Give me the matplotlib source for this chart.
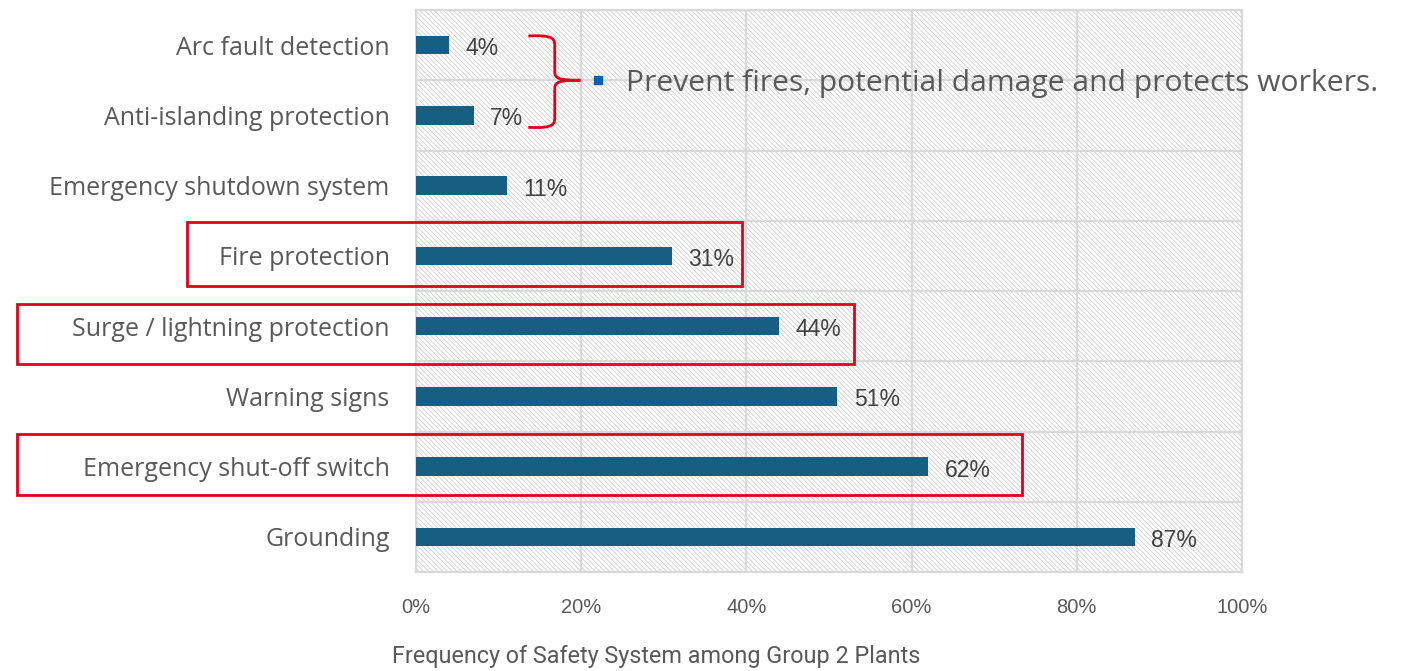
import matplotlib
matplotlib.use("Agg")
import matplotlib.pyplot as plt
import numpy as np
from matplotlib.patches import Rectangle, PathPatch
from matplotlib.path import Path

# Safety systems (listed top to bottom) and share of plants that have them (%)
categories = [
    "Arc fault detection",
    "Anti-islanding protection",
    "Emergency shutdown system",
    "Fire protection",
    "Surge / lightning protection",
    "Warning signs",
    "Emergency shut-off switch",
    "Grounding",
]
values = [4, 7, 11, 31, 44, 51, 62, 87]
xticks = [0, 20, 40, 60, 80, 100]
xtick_labels = ["0%", "20%", "40%", "60%", "80%", "100%"]
xlabel = "Frequency of Safety System among Group 2 Plants"
note = "Prevent fires, potential damage and protects workers."

# Highlighted rows: (category, x-left, x-right, y-offset top, y-offset bottom)
highlights = [
    ("Fire protection", -27.7, 39.5, -0.48, 0.43),
    ("Surge / lightning protection", -48.3, 53.0, -0.31, 0.54),
    ("Emergency shut-off switch", -48.3, 73.4, -0.46, 0.40),
]

BAR = "#175f82"
GRID = "#d9d9d9"
TXT = "#595959"
RED = "#e0001b"

plt.rcParams["hatch.linewidth"] = 0.5
plt.rcParams["hatch.color"] = "#c4c4c4"

fig = plt.figure(figsize=(14.03, 6.71), dpi=100)
ax = fig.add_axes([416 / 1403, 1 - 572 / 671, 826 / 1403, 562 / 671])

y = np.arange(len(categories))
ax.set_xlim(0, 100)
ax.set_ylim(len(categories) - 0.5, -0.5)

# hatched plot background
ax.add_patch(Rectangle((0, 0), 1, 1, transform=ax.transAxes, facecolor="white",
                       edgecolor="#c4c4c4", hatch="\\" * 7, linewidth=0, zorder=0))

ax.barh(y, values, height=0.26, color=BAR, zorder=3)
for yi, v in zip(y, values):
    ax.text(v + 2.0, yi + 0.05, f"{v}%", va="center", ha="left", fontsize=16.5,
            family="Liberation Sans", color="#404040", zorder=4)

ax.set_xticks(xticks)
ax.set_xticklabels(xtick_labels, family="Liberation Sans", fontsize=14.5, color=TXT)
ax.set_yticks(y)
ax.set_yticklabels(categories, family="Open Sans", fontsize=18, color=TXT)
ax.set_yticks(np.arange(len(categories) + 1) - 0.5, minor=True)
ax.tick_params(axis="both", which="both", length=0)
ax.tick_params(axis="x", pad=19)
ax.tick_params(axis="y", pad=19)
ax.grid(axis="x", which="major", color=GRID, linewidth=1.6, zorder=1)
ax.grid(axis="y", which="minor", color=GRID, linewidth=1.6, zorder=1)
for s in ax.spines.values():
    s.set_color(GRID)
    s.set_linewidth(1.6)

fig.text(392 / 1403, 1 - 657 / 671, xlabel, ha="left", va="center",
         family="Roboto", fontsize=16.8, color=TXT)

# red frames around highlighted rows
idx = {c: i for i, c in enumerate(categories)}
for cat, x0, x1, dt, db in highlights:
    r = idx[cat]
    ax.add_patch(Rectangle((x0, r + dt), x1 - x0, db - dt, fill=False,
                           edgecolor=RED, linewidth=2, clip_on=False, zorder=6))

# curly brace grouping the first two rows
xa, xb, xc = 13.6, 16.8, 19.9
ya, ym, yb = -0.13, 0.5, 1.17
verts = [
    (xa, ya), (xb, ya - 0.02), (xb, ya + 0.05), (xb, ya + 0.15),
    (xb, ym - 0.12),
    (xb, ym - 0.02), (xb + 0.6, ym), (xc, ym),
    (xb + 0.6, ym), (xb, ym + 0.02), (xb, ym + 0.12),
    (xb, yb - 0.15),
    (xb, yb - 0.05), (xb, yb + 0.02), (xa, yb),
]
codes = [Path.MOVETO, Path.CURVE4, Path.CURVE4, Path.CURVE4,
         Path.LINETO,
         Path.CURVE4, Path.CURVE4, Path.CURVE4,
         Path.CURVE4, Path.CURVE4, Path.CURVE4,
         Path.LINETO,
         Path.CURVE4, Path.CURVE4, Path.CURVE4]
ax.add_patch(PathPatch(Path(verts, codes), fill=False, edgecolor=RED,
                       linewidth=2, clip_on=False, zorder=6))

ax.plot([22.0], [ym], marker="s", markersize=6, color="#0a5fb4", zorder=6,
        clip_on=False)
ax.text(25.4, ym + 0.04, note, ha="left", va="center", family="Open Sans",
        fontsize=21.6, color=TXT, zorder=6, clip_on=False)

fig.savefig("out.png", dpi=100)
